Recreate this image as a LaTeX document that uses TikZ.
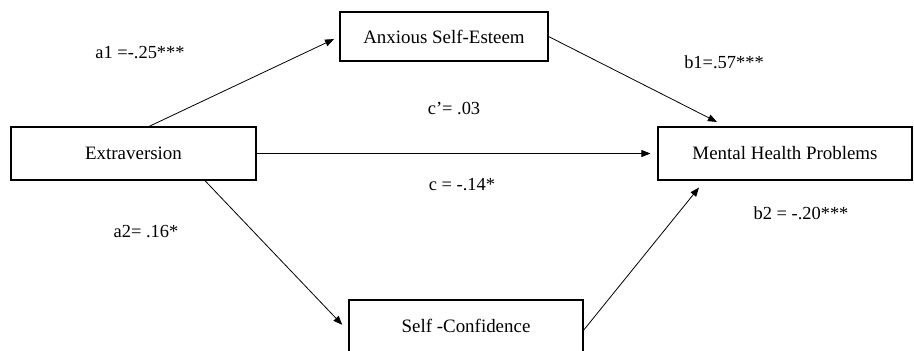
\documentclass[tikz,border=0pt]{standalone}
\usepackage{fontspec}
\setmainfont{Liberation Serif}
\usetikzlibrary{arrows.meta,calc}
\begin{document}
\begin{tikzpicture}[x=1bp,y=-1bp,>={Triangle[length=9bp,width=7bp]},
    var/.style={draw,line width=1.1bp,inner sep=0pt,minimum height=50bp,font=\fontsize{19}{22}\selectfont},
    coef/.style={inner sep=1bp,font=\fontsize{18.5}{21}\selectfont},
    effect/.style={->,line width=0.8bp}]
  \useasboundingbox (0,0) rectangle (914,350);
  % variables
  \node[var,minimum width=245bp,minimum height=53bp] (ext) at (133.5,153.5) {Extraversion};
  \node[var,minimum width=208bp,minimum height=49bp] (anx) at (444,36.5) {Anxious Self-Esteem};
  \node[var,minimum width=254bp,minimum height=53bp] (mhp) at (785,153.5) {Mental Health Problems};
  \node[var,minimum width=234bp,minimum height=52bp] (sc) at (466,326) {Self -Confidence};
  % paths
  \draw[effect,shorten >=6bp] ($(ext.north west)!0.563!(ext.north east)$) -- (anx.west);
  \draw[effect,shorten >=10bp] (anx.east) -- ($(mhp.north west)!0.268!(mhp.north east)$);
  \draw[effect,shorten >=7bp] (ext.east) -- (mhp.west);
  \draw[effect,shorten >=9bp] ($(ext.south west)!0.79!(ext.south east)$) -- ($(sc.north west)!0.6!(sc.south west)$);
  \draw[effect,shorten >=9bp] ($(sc.north east)!0.58!(sc.south east)$) -- ($(mhp.south west)!0.185!(mhp.south east)$);
  % coefficients
  \node[coef] (a1) at (140,53) {a1 =-.25***};
  \node[coef] (b1) at (724,62) {b1=.57***};
  \node[coef] (cp) at (454,108) {c’= .03};
  \node[coef] (c) at (462,185) {c = -.14*};
  \node[coef] (a2) at (146,232) {a2= .16*};
  \node[coef] (b2) at (801,213) {b2 = -.20***};
\end{tikzpicture}
\end{document}
